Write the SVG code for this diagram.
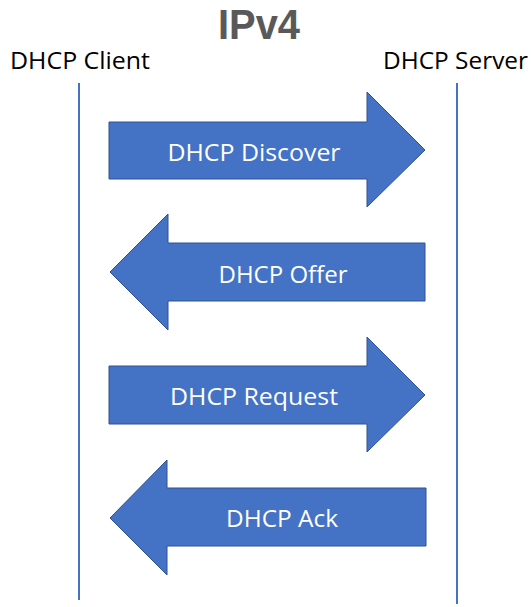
<svg xmlns="http://www.w3.org/2000/svg" width="531" height="607" viewBox="0 0 531 607">
  <style>
    .title { font-family: "Liberation Sans", Arial, sans-serif; font-weight: bold; font-size: 42px; fill: #595959; }
    .role { font-family: "Open Sans", "Noto Sans", sans-serif; font-size: 24px; fill: #000; }
    .lifeline { stroke: #4472C4; stroke-width: 2; fill: none; }
    .msg { fill: #4472C4; stroke: #2F528F; stroke-width: 1; }
    .label { font-family: "Open Sans", "Noto Sans", sans-serif; font-size: 23px; fill: #fff; }
  </style>
  <rect width="531" height="607" fill="#fff"/>

  <text class="title" x="259" y="39" text-anchor="middle" textLength="82" lengthAdjust="spacingAndGlyphs">IPv4</text>

  <g id="client">
    <text class="role" x="10" y="69" textLength="140" lengthAdjust="spacingAndGlyphs">DHCP Client</text>
    <line class="lifeline" x1="79" y1="83" x2="79" y2="600"/>
  </g>
  <g id="server">
    <text class="role" x="383" y="69" textLength="145" lengthAdjust="spacingAndGlyphs">DHCP Server</text>
    <line class="lifeline" x1="457" y1="83" x2="457" y2="604"/>
  </g>

  <g id="connectors">
    <g id="discover">
      <polygon class="msg" points="109,122 367,122 367,92 425,150 367,207 367,179 109,179"/>
      <text class="label" x="254" y="161" text-anchor="middle" textLength="173" lengthAdjust="spacingAndGlyphs">DHCP Discover</text>
    </g>
    <g id="offer">
      <polygon class="msg" points="425,243 168,243 168,214 110,272 168,330 168,301 425,301"/>
      <text class="label" x="283" y="283" text-anchor="middle" textLength="129" lengthAdjust="spacingAndGlyphs">DHCP Offer</text>
    </g>
    <g id="request">
      <polygon class="msg" points="109,366 367,366 367,337 425,395 367,452 367,424 109,424"/>
      <text class="label" x="254" y="405" text-anchor="middle" textLength="168" lengthAdjust="spacingAndGlyphs">DHCP Request</text>
    </g>
    <g id="ack">
      <polygon class="msg" points="426,488 167,488 167,460 110,518 167,575 167,546 426,546"/>
      <text class="label" x="282" y="527" text-anchor="middle" textLength="112" lengthAdjust="spacingAndGlyphs">DHCP Ack</text>
    </g>
  </g>
</svg>
